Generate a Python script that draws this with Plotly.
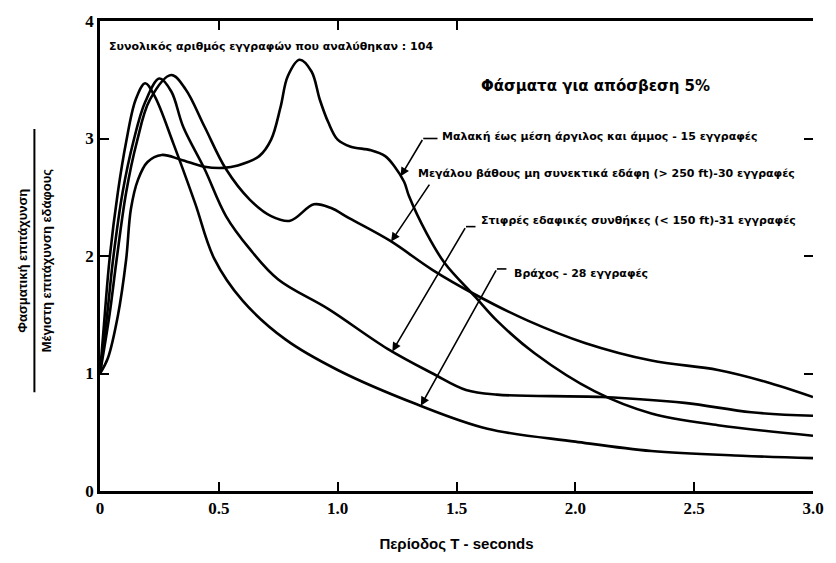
import numpy as np
import plotly.graph_objects as go

# ---------------- data ----------------
rock_T = [0, 0.02, 0.04, 0.075, 0.11, 0.15, 0.19, 0.23, 0.31, 0.40, 0.48, 0.60, 0.78, 1.00, 1.33, 1.63, 2.00, 2.32, 2.70, 3.00]
rock_v = [1.0, 1.5, 1.97, 2.54, 2.97, 3.33, 3.47, 3.36, 2.95, 2.45, 1.98, 1.62, 1.29, 1.03, 0.74, 0.53, 0.42, 0.34, 0.30, 0.28]

stiff_T = [0, 0.03, 0.055, 0.095, 0.14, 0.19, 0.25, 0.30, 0.35, 0.44, 0.53, 0.63, 0.75, 0.96, 1.21, 1.40, 1.54, 1.67, 2.11, 2.46, 2.74, 3.00]
stiff_v = [1.0, 1.5, 1.97, 2.54, 2.97, 3.31, 3.51, 3.40, 3.10, 2.74, 2.34, 2.06, 1.80, 1.55, 1.21, 1.00, 0.86, 0.82, 0.80, 0.75, 0.67, 0.64]

deep_T = [0, 0.04, 0.07, 0.11, 0.155, 0.21, 0.30, 0.36, 0.44, 0.53, 0.63, 0.72, 0.80, 0.90, 0.97, 1.05, 1.22, 1.40, 1.58, 1.80, 2.04, 2.32, 2.60, 2.80, 3.00]
deep_v = [1.0, 1.5, 1.97, 2.54, 2.97, 3.33, 3.54, 3.42, 3.10, 2.74, 2.48, 2.34, 2.30, 2.44, 2.41, 2.32, 2.13, 1.88, 1.67, 1.45, 1.26, 1.11, 1.03, 0.93, 0.80]

soft_T = [0, 0.033, 0.075, 0.11, 0.13, 0.16, 0.20, 0.26, 0.34, 0.44, 0.52, 0.58, 0.67, 0.72, 0.76, 0.79, 0.84, 0.89, 0.925, 0.96, 1.00, 1.055, 1.14, 1.20, 1.24, 1.28, 1.30, 1.375, 1.45, 1.58, 1.67, 1.83, 2.08, 2.32, 2.60, 3.00]
soft_v = [1.0, 1.13, 1.49, 1.97, 2.40, 2.65, 2.80, 2.86, 2.82, 2.76, 2.75, 2.77, 2.85, 2.99, 3.27, 3.53, 3.67, 3.57, 3.33, 3.14, 2.99, 2.93, 2.90, 2.85, 2.76, 2.63, 2.51, 2.19, 1.94, 1.65, 1.45, 1.17, 0.85, 0.66, 0.56, 0.47]

x_ticks = [0, 0.5, 1.0, 1.5, 2.0, 2.5, 3.0]
x_ticklabels = ["0", "0.5", "1.0", "1.5", "2.0", "2.5", "3.0"]
y_ticks = [0, 1, 2, 3, 4]
y_ticklabels = ["0", "1", "2", "3", "4"]

labels = {
    "soft": "Μαλακή έως μέση άργιλος και άμμος - 15 εγγραφές",
    "deep": "Μεγάλου βάθους μη συνεκτικά εδάφη (> 250 ft)-30 εγγραφές",
    "stiff": "Στιφρές εδαφικές συνθήκες (< 150 ft)-31 εγγραφές",
    "rock": "Βράχος - 28 εγγραφές",
}
note_total = "Συνολικός αριθμός εγγραφών που αναλύθηκαν : 104"
note_damping = "Φάσματα για απόσβεση 5%"
x_title = "Περίοδος T - seconds"
y_num = "Φασματική επιτάχυνση"
y_den = "Μέγιστη επιτάχυνση εδάφους"

# ---------------- figure ----------------
fig = go.Figure()
line_style = dict(color="black", width=2.6, shape="spline", smoothing=1.0)
for name, T, v in [("rock", rock_T, rock_v), ("stiff", stiff_T, stiff_v),
                   ("deep", deep_T, deep_v), ("soft", soft_T, soft_v)]:
    fig.add_trace(go.Scatter(x=T, y=v, mode="lines", line=line_style,
                             name=labels[name], showlegend=False, hoverinfo="skip"))

lab_font = dict(family="DejaVu Sans", size=11, color="black")

callouts = [
    # key, text x, text y, horizontal-seg end x, tail x, tail y, tip T, curve arrays
    ("soft", 1.43, 3.02, 1.42, 1.36, 3.00, 1.265, soft_T, soft_v),
    ("deep", 1.33, 2.70, None, 1.39, 2.62, 1.225, deep_T, deep_v),
    ("stiff", 1.595, 2.30, 1.58, 1.54, 2.25, 1.23, stiff_T, stiff_v),
    ("rock", 1.735, 1.85, 1.71, 1.67, 1.89, 1.35, rock_T, rock_v),
]
for key, tx, ty, hx, ax_, ay_, tipT, cT, cv in callouts:
    fig.add_annotation(x=tx, y=ty, xref="x", yref="y", text="<b>" + labels[key] + "</b>",
                       showarrow=False, xanchor="left", yanchor="middle", font=lab_font)
    tipv = float(np.interp(tipT, cT, cv))
    if hx is not None:
        fig.add_shape(type="line", xref="x", yref="y", x0=ax_, y0=ay_, x1=hx, y1=ay_,
                      line=dict(color="black", width=1.6))
    fig.add_annotation(x=tipT, y=tipv, ax=ax_, ay=ay_, xref="x", yref="y",
                       axref="x", ayref="y", text="", showarrow=True,
                       arrowhead=2, arrowsize=1.1, arrowwidth=1.6, arrowcolor="black")

fig.add_annotation(x=0.03, y=3.78, xref="x", yref="y", text="<b>" + note_total + "</b>",
                   showarrow=False, xanchor="left", yanchor="middle",
                   font=dict(family="DejaVu Sans", size=11, color="black"))
fig.add_annotation(x=1.595, y=3.45, xref="x", yref="y", text="<b>" + note_damping + "</b>",
                   showarrow=False, xanchor="left", yanchor="middle",
                   font=dict(family="DejaVu Sans", size=15, color="black"))

# y-axis title as a fraction
fig.add_annotation(x=-0.108, y=0.49, xref="paper", yref="paper", text="<b>" + y_num + "</b>",
                   showarrow=False, textangle=-90, xanchor="center", yanchor="middle",
                   font=dict(family="Liberation Sans", size=13, color="black"))
fig.add_annotation(x=-0.075, y=0.49, xref="paper", yref="paper", text="<b>" + y_den + "</b>",
                   showarrow=False, textangle=-90, xanchor="center", yanchor="middle",
                   font=dict(family="Liberation Sans", size=13, color="black"))
fig.add_shape(type="line", xref="paper", yref="paper", x0=-0.092, x1=-0.092, y0=0.21, y1=0.77,
              line=dict(color="black", width=2))

tick_font = dict(family="Liberation Serif", size=17, color="black")
fig.update_layout(
    width=836, height=563,
    margin=dict(l=100, r=16, t=20, b=70),
    paper_bgcolor="white", plot_bgcolor="white",
    showlegend=False,
    xaxis=dict(range=[0, 3.0], tickvals=x_ticks, ticktext=["<b>" + t + "</b>" for t in x_ticklabels],
               ticks="inside", ticklen=9, tickwidth=2, tickcolor="black",
               showline=True, linecolor="black", linewidth=2.5, showgrid=False, zeroline=False,
               tickfont=tick_font,
               title=dict(text="<b>" + x_title + "</b>", standoff=22,
                          font=dict(family="Liberation Sans", size=15, color="black"))),
    yaxis=dict(range=[0, 4.0], tickvals=y_ticks, ticktext=["<b>" + t + "</b>" for t in y_ticklabels],
               ticks="inside", ticklen=9, tickwidth=2, tickcolor="black",
               showline=True, linecolor="black", linewidth=2.5, showgrid=False, zeroline=False,
               tickfont=tick_font),
    xaxis2=dict(overlaying="x", side="top", range=[0, 3.0], tickvals=[0.5, 1.0, 1.5],
                ticks="inside", ticklen=9, tickwidth=2, tickcolor="black", showticklabels=False,
                showline=True, linecolor="black", linewidth=2.5, showgrid=False, zeroline=False,
                anchor="y"),
    yaxis2=dict(overlaying="y", side="right", range=[0, 4.0], tickvals=[1, 2, 3],
                ticks="inside", ticklen=9, tickwidth=2, tickcolor="black", showticklabels=False,
                showline=False, showgrid=False, zeroline=False, anchor="x"),
)
fig.add_trace(go.Scatter(x=[None], y=[None], xaxis="x2", yaxis="y2", showlegend=False,
                         hoverinfo="skip"))

fig.write_html("out.html")
